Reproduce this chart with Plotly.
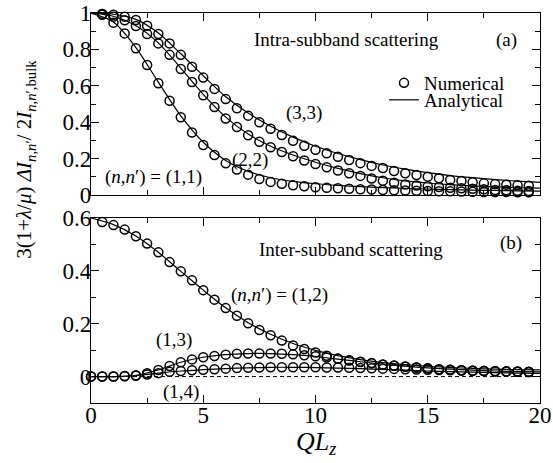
import plotly.graph_objects as go

# ---------------- data ----------------
x_num = [0.5, 1.0, 1.5, 2.0, 2.5, 3.0, 3.5, 4.0, 4.5, 5.0, 5.5, 6.0, 6.5, 7.0, 7.5, 8.0,
         8.5, 9.0, 9.5, 10.0, 10.5, 11.0, 11.5, 12.0, 12.5, 13.0, 13.5, 14.0, 14.5, 15.0,
         15.5, 16.0, 16.5, 17.0, 17.5, 18.0, 18.5, 19.0, 19.5]
x_num0 = [0.0] + x_num
x_an = [0, 1, 2, 3, 4, 5, 6, 7, 8, 9, 10, 11, 12, 13, 14, 15, 16, 17, 18, 19, 20]

# (a) intra-subband, numerical
num_11 = [0.99, 0.947, 0.888, 0.806, 0.714, 0.614, 0.518, 0.427, 0.343, 0.275, 0.22, 0.174,
          0.14, 0.112, 0.088, 0.072, 0.062, 0.054, 0.048, 0.043, 0.04, 0.037, 0.034, 0.032,
          0.03, 0.028, 0.026, 0.025, 0.023, 0.022, 0.021, 0.02, 0.019, 0.018, 0.017, 0.016,
          0.016, 0.015, 0.015]
num_22 = [0.995, 0.98, 0.96, 0.928, 0.885, 0.833, 0.77, 0.692, 0.621, 0.548, 0.484, 0.42,
          0.374, 0.328, 0.293, 0.262, 0.236, 0.213, 0.19, 0.17, 0.152, 0.135, 0.12, 0.105,
          0.091, 0.078, 0.067, 0.058, 0.052, 0.048, 0.044, 0.04, 0.037, 0.034, 0.031, 0.028,
          0.026, 0.024, 0.022]
num_33 = [0.995, 0.99, 0.98, 0.962, 0.93, 0.885, 0.833, 0.77, 0.705, 0.645, 0.583, 0.527,
          0.477, 0.436, 0.4, 0.364, 0.33, 0.298, 0.271, 0.248, 0.229, 0.21, 0.192, 0.175,
          0.16, 0.148, 0.132, 0.12, 0.11, 0.101, 0.092, 0.083, 0.077, 0.07, 0.064, 0.06,
          0.057, 0.053, 0.051]
# (a) intra-subband, analytical
an_11 = [1.0, 0.95, 0.81, 0.62, 0.435, 0.29, 0.19, 0.13, 0.095, 0.075, 0.062, 0.053, 0.046,
         0.041, 0.036, 0.033, 0.03, 0.027, 0.025, 0.023, 0.021]
an_22 = [1.0, 0.982, 0.93, 0.836, 0.697, 0.553, 0.428, 0.335, 0.268, 0.22, 0.18, 0.146, 0.118,
         0.095, 0.078, 0.066, 0.057, 0.05, 0.045, 0.041, 0.038]
an_33 = [1.0, 0.993, 0.965, 0.89, 0.776, 0.655, 0.54, 0.45, 0.378, 0.318, 0.268, 0.228, 0.194,
         0.165, 0.142, 0.123, 0.107, 0.095, 0.085, 0.076, 0.069]

# (b) inter-subband, numerical
num_12 = [0.585, 0.573, 0.556, 0.531, 0.503, 0.47, 0.433, 0.398, 0.364, 0.327, 0.291, 0.259,
          0.23, 0.202, 0.176, 0.156, 0.136, 0.118, 0.104, 0.091, 0.079, 0.068, 0.061, 0.055,
          0.05, 0.045, 0.041, 0.037, 0.034, 0.031, 0.028, 0.026, 0.024, 0.022, 0.021, 0.02,
          0.019, 0.018, 0.017]
num_13 = [0.0, 0.0, 0.0, 0.002, 0.005, 0.013, 0.025, 0.04, 0.054, 0.065, 0.073, 0.078, 0.083,
          0.086, 0.087, 0.087, 0.087, 0.086, 0.084, 0.081, 0.077, 0.072, 0.067, 0.062, 0.056,
          0.051, 0.046, 0.042, 0.038, 0.034, 0.031, 0.028, 0.026, 0.024, 0.022, 0.021, 0.02,
          0.019, 0.018, 0.017]
num_14 = [0.0, 0.0, 0.0, 0.001, 0.003, 0.008, 0.013, 0.018, 0.021, 0.024, 0.026, 0.028, 0.03,
          0.032, 0.033, 0.034, 0.035, 0.035, 0.035, 0.035, 0.035, 0.034, 0.034, 0.033, 0.032,
          0.031, 0.03, 0.029, 0.028, 0.027, 0.026, 0.025, 0.024, 0.023, 0.022, 0.021, 0.02,
          0.019, 0.019, 0.018]
# (b) inter-subband, analytical
an_12 = [0.6, 0.575, 0.532, 0.47, 0.398, 0.327, 0.26, 0.204, 0.16, 0.125, 0.099, 0.079, 0.064,
         0.053, 0.045, 0.039, 0.034, 0.031, 0.028, 0.026, 0.025]
an_13 = [0.0, 0.0, 0.005, 0.025, 0.054, 0.073, 0.083, 0.087, 0.087, 0.083, 0.076, 0.066, 0.056,
         0.047, 0.039, 0.033, 0.028, 0.024, 0.021, 0.019, 0.018]
an_14 = [0.0, 0.0, 0.003, 0.013, 0.021, 0.026, 0.03, 0.033, 0.035, 0.035, 0.034, 0.032, 0.03,
         0.027, 0.024, 0.021, 0.019, 0.017, 0.015, 0.013, 0.012]

baseline = 0.0

# ---------------- figure ----------------
FONT = "Liberation Serif"
fig = go.Figure()

def add_num(x, y, xa, ya, first=False):
    fig.add_trace(go.Scatter(
        x=x, y=y, mode="markers", xaxis=xa, yaxis=ya, cliponaxis=False,
        marker=dict(symbol="circle-open", size=9, color="black", line=dict(width=1.5, color="black")),
        name="Numerical", showlegend=first, legend="legend"))

def add_an(x, y, xa, ya, first=False):
    fig.add_trace(go.Scatter(
        x=x, y=y, mode="lines", xaxis=xa, yaxis=ya,
        line=dict(color="black", width=1.2, shape="spline", smoothing=0.8),
        name="Analytical", showlegend=first, legend="legend2"))

add_num(x_num, num_11, "x", "y", first=True)
add_num(x_num, num_22, "x", "y")
add_num(x_num, num_33, "x", "y")
add_an(x_an, an_11, "x", "y", first=True)
add_an(x_an, an_22, "x", "y")
add_an(x_an, an_33, "x", "y")

add_num(x_num, num_12, "x2", "y2")
add_num(x_num0, num_13, "x2", "y2")
add_num(x_num0, num_14, "x2", "y2")
add_an(x_an, an_12, "x2", "y2")
add_an(x_an, an_13, "x2", "y2")
add_an(x_an, an_14, "x2", "y2")

fig.add_hline(y=baseline, line=dict(color="black", width=1, dash="4px,3px"), xref="x2", yref="y2")

def axis(**kw):
    d = dict(
        showline=True, linecolor="black", linewidth=1.3, mirror="ticks",
        ticks="inside", ticklen=8, tickwidth=1.2, tickcolor="black",
        showgrid=False, zeroline=False, automargin=False, ticklabeloverflow="allow",
        tickfont=dict(family=FONT, size=23, color="black"),
    )
    d.update(kw)
    return d

fig.update_layout(
    width=553, height=463,
    margin=dict(l=91, r=13, t=13, b=60, autoexpand=False),
    paper_bgcolor="white", plot_bgcolor="white",
    font=dict(family=FONT, color="black", size=19),
    xaxis=axis(domain=[0, 1], anchor="y", range=[0, 20], tick0=0, dtick=5,
               minor=dict(ticks="inside", dtick=2.5, ticklen=5, tickcolor="black"),
               showticklabels=False),
    yaxis=axis(domain=[0.5333, 1], anchor="x", range=[0, 1], tick0=0, dtick=0.2,
               ticklabelstandoff=-6,
               minor=dict(ticks="inside", dtick=0.1, ticklen=5, tickcolor="black")),
    xaxis2=axis(domain=[0, 1], anchor="y2", range=[0, 20], tick0=0, dtick=5,
                ticklabelstandoff=-9,
                minor=dict(ticks="inside", dtick=2.5, ticklen=5, tickcolor="black")),
    yaxis2=axis(domain=[0, 0.4744], anchor="x2", range=[-0.1, 0.6], tick0=0, dtick=0.2,
                ticklabelstandoff=-6,
                minor=dict(ticks="inside", dtick=0.1, ticklen=5, tickcolor="black")),
    legend=dict(x=(384 - 91) / 449, xanchor="left", y=0.8205, yanchor="middle",
                font=dict(family=FONT, size=19), bgcolor="rgba(0,0,0,0)", borderwidth=0),
    legend2=dict(x=(384 - 91) / 449, xanchor="left", y=0.777, yanchor="middle",
                 font=dict(family=FONT, size=19), bgcolor="rgba(0,0,0,0)", borderwidth=0),
)

def lab(text, x, y, xref, yref, size=19, **kw):
    fig.add_annotation(text=text, x=x, y=y, xref=xref, yref=yref, showarrow=False,
                       font=dict(family=FONT, size=size, color="black"),
                       xanchor="center", yanchor="middle", **kw)

lab("Intra-subband scattering", 11.37, 0.852, "x", "y")
lab("(a)", 18.5, 0.852, "x", "y")
lab("(3,3)", 9.47, 0.45, "x", "y")
lab("(2,2)", 7.07, 0.192, "x", "y")
lab("(<i>n</i>,<i>n</i>′) = (1,1)", 2.78, 0.099, "x", "y")

lab("Inter-subband scattering", 11.6, 0.48, "x2", "y2")
lab("(b)", 18.7, 0.507, "x2", "y2")
lab("(<i>n</i>,<i>n</i>′) = (1,2)", 8.4, 0.309, "x2", "y2")
lab("(1,3)", 3.68, 0.139, "x2", "y2")
lab("(1,4)", 4.0, -0.058, "x2", "y2")

lab("3(1+<i>λ</i>/<i>μ</i>) <i>ΔI</i><sub><i>n</i>,<i>n</i>′</sub>/ 2<i>I</i><sub><i>n</i>,<i>n</i>′,bulk</sub>",
    -0.147, 0.626, "paper", "paper", size=21, textangle=-90)
lab("<i>QL</i><sub><i>z</i></sub>", 10, -0.103, "x2", "paper", size=26)

fig.write_html("out.html", config={"displayModeBar": False},
               post_script="document.body.style.margin='0';document.body.style.overflow='hidden';")
